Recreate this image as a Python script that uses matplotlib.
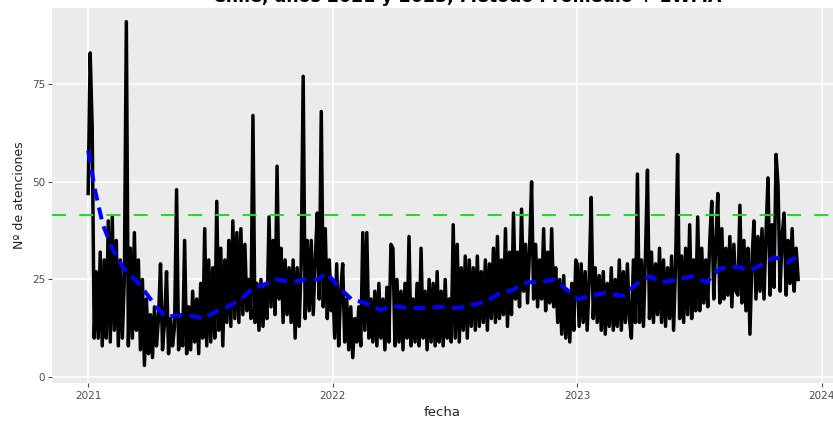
import matplotlib

matplotlib.use("Agg")
import matplotlib.pyplot as plt
import matplotlib.dates as mdates
import numpy as np
import pandas as pd

TITLE = "Chile, años 2021 y 2023, Método Promedio + 1WMA"
UMBRAL = 41.6  # promedio + 1 desviacion

# atenciones diarias (muestreadas cada 3 dias), una fila por mes
atenciones_2021 = [
    47, 83, 64, 10, 27, 10, 32, 8, 30, 10,
    40, 9, 41, 12, 35, 8, 30, 10, 25, 91,
    8, 33, 10, 37, 12, 30, 7, 25, 3, 20,
    6, 16, 5, 18, 8, 15, 29, 7, 14, 27,
    6, 15, 8, 13, 48, 7, 16, 8, 35, 6,
    18, 7, 22, 9, 20, 6, 24, 10, 38, 8,
    30, 9, 28, 10, 45, 12, 33, 8, 30, 14,
    35, 13, 40, 15, 37, 14, 38, 16, 34, 17,
    25, 15, 67, 14, 24, 12, 25, 13, 23, 15, 41,
    18, 35, 16, 54, 20, 33, 14, 30, 16, 28,
    14, 30, 10, 28, 13, 29, 77, 15, 35, 17,
    35, 16, 30, 42, 20, 68, 18, 38, 15, 30, 17,
]
atenciones_2022 = [
    25, 10, 29, 8, 22, 29, 9, 20, 7, 18,
    5, 15, 9, 18, 8, 37, 12, 37, 10, 20,
    9, 22, 8, 24, 10, 20, 7, 23, 9, 34,
    33, 8, 25, 9, 22, 7, 24, 10, 36, 8,
    20, 9, 24, 8, 33, 10, 22, 7, 25, 9,
    24, 8, 27, 9, 22, 8, 25, 10, 20, 9,
    39, 10, 34, 9, 28, 12, 31, 10, 30, 13,
    28, 12, 31, 13, 27, 14, 30, 12, 29, 15,
    33, 14, 36, 15, 30, 16, 38, 13, 32, 16, 42,
    20, 32, 18, 43, 22, 34, 19, 33, 50, 20,
    34, 18, 30, 20, 38, 17, 32, 19, 38, 18,
    28, 14, 25, 11, 26, 10, 22, 9, 24, 12, 30,
]
atenciones_2023 = [
    29, 13, 29, 14, 27, 12, 25, 46, 15, 28,
    14, 26, 12, 27, 11, 24, 13, 28, 12, 25,
    13, 30, 12, 27, 14, 29, 15, 10, 30, 14,
    52, 14, 30, 13, 31, 53, 15, 32, 14, 29,
    16, 33, 14, 30, 13, 28, 15, 31, 12, 29,
    57, 15, 31, 14, 33, 16, 39, 15, 30, 17,
    41, 17, 33, 19, 30, 18, 35, 45, 20, 34,
    47, 19, 38, 20, 33, 21, 36, 18, 34, 22,
    21, 44, 19, 35, 17, 33, 11, 30, 40, 20, 36,
    22, 38, 20, 37, 51, 21, 39, 23, 57, 49,
    22, 36, 42, 21, 35, 24, 38, 22, 33, 25,
]

# curva suavizada
suave_fechas = [
    "2021-01-01", "2021-01-11", "2021-01-23", "2021-02-06", "2021-02-22",
    "2021-03-20", "2021-04-07", "2021-04-26", "2021-05-14", "2021-06-02",
    "2021-06-22", "2021-07-10", "2021-07-28", "2021-08-16", "2021-09-03",
    "2021-09-22", "2021-10-10", "2021-11-02", "2021-11-20", "2021-12-09",
    "2021-12-24", "2022-01-09", "2022-01-30", "2022-02-19", "2022-03-13",
    "2022-04-02", "2022-04-24", "2022-05-19", "2022-06-11", "2022-07-06",
    "2022-07-26", "2022-08-17", "2022-09-08", "2022-09-26", "2022-10-19",
    "2022-11-07", "2022-11-27", "2022-12-15", "2023-01-03", "2023-01-25",
    "2023-02-11", "2023-03-10", "2023-04-01", "2023-04-19", "2023-05-09",
    "2023-05-29", "2023-06-22", "2023-07-13", "2023-08-02", "2023-08-27",
    "2023-09-18", "2023-10-05", "2023-10-23", "2023-11-11", "2023-11-24",
]
suave_valores = [
    58, 48, 39, 33, 28,
    23.5, 19.3, 15.4, 15.8, 15.8,
    15, 16.7, 18, 19.8, 22.7,
    23.8, 25, 24.3, 25, 25,
    26.6, 23.2, 19.8, 19, 17.2,
    18.2, 17.7, 17.7, 18, 17.7,
    18.4, 19.3, 21.5, 22.3, 24.3,
    24.3, 25, 22.6, 20, 21,
    21.5, 20.8, 24, 25.8, 24.3,
    25, 25.8, 24.3, 27.8, 28.2,
    27.4, 29, 30.7, 29.4, 30.7,
]

fechas = np.concatenate([
    pd.date_range("2021-01-01", periods=len(atenciones_2021), freq="3D"),
    pd.date_range("2022-01-01", periods=len(atenciones_2022), freq="3D"),
    pd.date_range("2023-01-01", periods=len(atenciones_2023), freq="3D"),
])
valores = np.array(atenciones_2021 + atenciones_2022 + atenciones_2023, dtype=float)

W, H = 833, 423
fig = plt.figure(figsize=(W / 100, H / 100), dpi=100)
ax = fig.add_axes([52 / W, (H - 383) / H, (W - 52) / W, 375 / H])
ax.set_facecolor("#EBEBEB")
for s in ax.spines.values():
    s.set_visible(False)
ax.grid(True, color="white", linewidth=1.1)
ax.set_axisbelow(True)

ax.plot(fechas, valores, color="black", linewidth=2.5, zorder=3)
ax.axhline(UMBRAL, color="#1FDB1F", linewidth=1.4, dashes=(7.2, 6.8), zorder=4)
ax.plot(pd.to_datetime(suave_fechas), suave_valores, color="#0000FF",
        linewidth=2.9, dashes=(3, 1.8), zorder=5)

ax.set_xlim(pd.Timestamp("2020-11-08"), pd.Timestamp("2024-01-18"))
ax.set_ylim(-1.5, 94.5)
ax.set_yticks([0, 25, 50, 75])
ax.set_xticks(pd.to_datetime(["2021-01-01", "2022-01-01", "2023-01-01", "2024-01-01"]))
ax.xaxis.set_major_formatter(mdates.DateFormatter("%Y"))
ax.tick_params(colors="#4D4D4D", labelsize=7.5, length=3, width=0.8, pad=2)
ax.tick_params(axis="x", pad=3)

ax.set_xlabel("fecha", fontsize=9.5, color="#222222", labelpad=3)
ax.set_ylabel("Nº de atenciones", fontsize=9, color="#222222", labelpad=4)

fig.text(467 / W, 1 - 2 / H, TITLE, ha="center", va="baseline",
         fontsize=12.5, fontweight="bold", color="black")

fig.savefig("out.png", dpi=100)
